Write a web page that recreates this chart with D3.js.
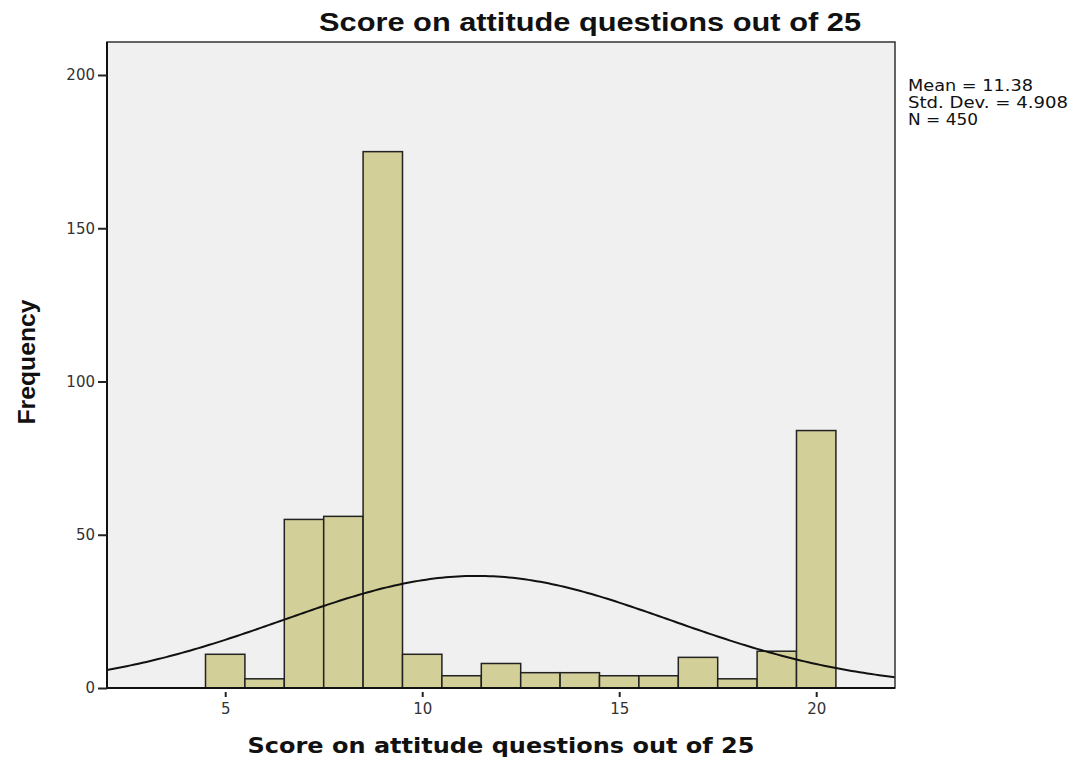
<!DOCTYPE html>
<html>
<head>
<meta charset="utf-8">
<script src="https://d3js.org/d3.v7.min.js"></script>
<style>
  body { margin: 0; background: #fff; }
  text { font-family: "Liberation Sans", Arial, sans-serif; }
</style>
</head>
<body>
<div id="chart"></div>
<script>
// histogram bins (lower edge) and counts
var binStarts = [4.5, 5.5, 6.5, 7.5, 8.5, 9.5, 10.5, 11.5, 12.5, 13.5, 14.5, 15.5, 16.5, 17.5, 18.5, 19.5];
var binWidth = 1;
var counts = [11, 3, 55, 56, 175, 11, 4, 8, 5, 5, 4, 4, 10, 3, 12, 84];
var xTicks = [5, 10, 15, 20];
var yTicks = [0, 50, 100, 150, 200];
var stats = { mean: 11.38, sd: 4.908, n: 450 };
var statLines = ["Mean = 11.38", "Std. Dev. = 4.908", "N = 450"];

var width = 1075, height = 766;
var margin = {top: 42, left: 107};
var plotW = 895 - margin.left;
var plotH = 688 - margin.top;

var svg = d3.select("#chart")
  .append("svg")
    .attr("width", width)
    .attr("height", height);

var g = svg.append("g")
  .attr("transform", "translate(" + margin.left + "," + margin.top + ")");

var x = d3.scaleLinear().domain([2, 22]).range([0, plotW]);
var y = d3.scaleLinear().domain([0, 200]).range([plotH, plotH - (688 - 75)]);

// plot background
g.append("rect")
  .attr("width", plotW)
  .attr("height", plotH)
  .attr("fill", "#f0f0f0");

g.append("clipPath").attr("id", "clip")
  .append("rect").attr("width", plotW).attr("height", plotH);

// bars
g.selectAll(".bar")
  .data(counts)
  .enter().append("rect")
    .attr("class", "bar")
    .attr("x", function(d, i) { return x(binStarts[i]); })
    .attr("y", function(d) { return y(d); })
    .attr("width", function(d, i) { return x(binStarts[i] + binWidth) - x(binStarts[i]); })
    .attr("height", function(d) { return y(0) - y(d); })
    .attr("fill", "#d3cf98")
    .attr("stroke", "#222")
    .attr("stroke-width", 1.5);

// normal curve from the summary stats
var curvePts = d3.range(2, 22.01, 0.1).map(function(v) {
  var z = (v - stats.mean) / stats.sd;
  return [v, stats.n * binWidth * Math.exp(-0.5 * z * z) / (stats.sd * Math.sqrt(2 * Math.PI))];
});
g.append("path")
  .datum(curvePts)
  .attr("clip-path", "url(#clip)")
  .attr("fill", "none")
  .attr("stroke", "#111")
  .attr("stroke-width", 2)
  .attr("d", d3.line()
    .x(function(d) { return x(d[0]); })
    .y(function(d) { return y(d[1]); }));

// frame
g.append("rect")
  .attr("width", plotW)
  .attr("height", plotH)
  .attr("fill", "none")
  .attr("stroke", "#333")
  .attr("stroke-width", 1.5);
g.append("line")
  .attr("x1", 0).attr("x2", plotW).attr("y1", plotH).attr("y2", plotH)
  .attr("stroke", "#111").attr("stroke-width", 2);
g.append("line")
  .attr("x1", 0).attr("x2", 0).attr("y1", 0).attr("y2", plotH)
  .attr("stroke", "#111").attr("stroke-width", 2);

// axes
var xAxis = g.append("g")
  .attr("transform", "translate(0," + plotH + ")")
  .call(d3.axisBottom(x).tickValues(xTicks).tickSize(9).tickPadding(6).tickFormat(d3.format("d")));
var yAxis = g.append("g")
  .call(d3.axisLeft(y).tickValues(yTicks).tickSize(9).tickPadding(3).tickFormat(d3.format("d")));

[xAxis, yAxis].forEach(function(a) {
  a.select(".domain").remove();
  a.selectAll(".tick line").attr("stroke", "#222").attr("stroke-width", 2);
  a.selectAll(".tick text")
    .attr("fill", "#333")
    .style("font-size", "15px")
    .style("font-family", "'DejaVu Sans', sans-serif");
});
xAxis.selectAll(".tick line").attr("y1", 4);

// titles
svg.append("text")
  .attr("x", 590)
  .attr("y", 31)
  .attr("text-anchor", "middle")
  .attr("textLength", 542)
  .attr("lengthAdjust", "spacingAndGlyphs")
  .style("font-size", "25px")
  .style("font-weight", "bold")
  .attr("fill", "#111")
  .text("Score on attitude questions out of 25");

svg.append("text")
  .attr("x", 501)
  .attr("y", 753)
  .attr("text-anchor", "middle")
  .attr("textLength", 507)
  .attr("lengthAdjust", "spacingAndGlyphs")
  .style("font-size", "21px")
  .style("font-weight", "bold")
  .style("font-family", "'DejaVu Sans', sans-serif")
  .attr("fill", "#111")
  .text("Score on attitude questions out of 25");

svg.append("text")
  .attr("transform", "translate(35,362) rotate(-90)")
  .attr("text-anchor", "middle")
  .attr("textLength", 125)
  .attr("lengthAdjust", "spacingAndGlyphs")
  .style("font-size", "23px")
  .style("font-weight", "bold")
  .attr("fill", "#111")
  .text("Frequency");

// stats legend
var statWidths = [125, 160, 70];
svg.append("g")
  .selectAll("text")
  .data(statLines)
  .enter().append("text")
    .attr("x", 908)
    .attr("y", function(d, i) { return 91 + i * 17; })
    .attr("textLength", function(d, i) { return statWidths[i]; })
    .attr("lengthAdjust", "spacingAndGlyphs")
    .style("font-size", "15px")
    .style("font-family", "'DejaVu Sans', sans-serif")
    .attr("fill", "#111")
    .text(function(d) { return d; });
</script>
</body>
</html>
